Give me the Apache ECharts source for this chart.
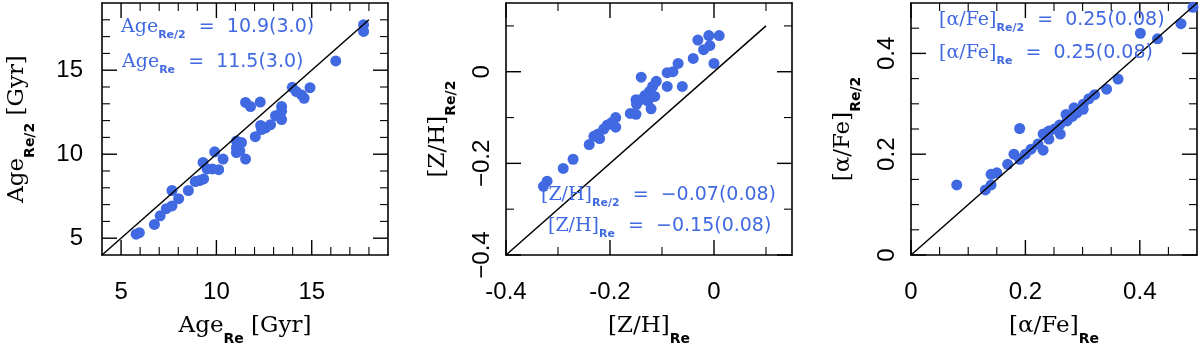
<!DOCTYPE html>
<html>
<head>
<meta charset="utf-8">
<script src="https://cdn.jsdelivr.net/npm/echarts@6/dist/echarts.min.js"></script>
<style>
html, body { margin: 0; padding: 0; background: #fff; }
#chart { width: 1200px; height: 351px; }
</style>
</head>
<body>
<div id="chart"></div>
<script>
// Age at Re (x) vs Age at Re/2 (y), Gyr
const ageRe = [17.72, 17.72, 16.26, 13.98, 14.19, 14.47, 14.6, 14.91, 11.53, 11.79, 12.3, 13.42, 13.42, 13.1, 13.42,
  12.32, 12.58, 12.84, 12.37, 12.04, 11.05, 11.32, 11.05, 11.05, 11.23, 11.53, 9.91, 10.35, 9.3, 9.51, 9.79, 10.12,
  8.89, 9.12, 9.33, 8.53, 7.67, 8.02, 7.67, 7.37, 7.05, 6.75, 5.79, 5.96]
const ageRe2 = [17.71, 17.31, 15.55, 13.98, 13.73, 13.53, 13.33, 13.96, 13.08, 12.84, 13.1, 12.84, 12.55, 12.29, 12.06,
  11.71, 11.57, 11.76, 11.47, 11.04, 10.78, 10.69, 10.39, 10.1, 10.2, 9.71, 10.14, 9.71, 9.51, 9.12, 9.12, 9.08,
  8.37, 8.43, 8.53, 7.84, 7.84, 7.35, 6.92, 6.76, 6.33, 5.82, 5.24, 5.33]

// [Z/H] at Re (x) vs at Re/2 (y)
const zhRe = [0.01, -0.01, -0.031, -0.008, -0.02, 0.0, -0.04, -0.069, -0.079, -0.09, -0.061, -0.09, -0.14, -0.111,
  -0.118, -0.124, -0.133, -0.141, -0.15, -0.149, -0.121, -0.161, -0.15, -0.114, -0.127, -0.189, -0.197, -0.205,
  -0.189, -0.212, -0.223, -0.231, -0.22, -0.24, -0.271, -0.29, -0.321, -0.328]
const zhRe2 = [0.079, 0.079, 0.069, 0.057, 0.048, 0.018, 0.029, 0.018, 0.0, -0.002, -0.032, -0.032, -0.012, -0.021,
  -0.032, -0.043, -0.052, -0.061, -0.061, -0.071, -0.081, -0.091, -0.093, -0.054, -0.064, -0.1, -0.111, -0.116,
  -0.121, -0.125, -0.136, -0.141, -0.146, -0.159, -0.191, -0.211, -0.239, -0.25]

// [alpha/Fe] at Re (x) vs at Re/2 (y)
const afeRe = [0.493, 0.472, 0.401, 0.431, 0.362, 0.342, 0.321, 0.311, 0.301, 0.301, 0.29, 0.282, 0.271, 0.273, 0.26,
  0.261, 0.251, 0.241, 0.238, 0.231, 0.241, 0.222, 0.21, 0.231, 0.2, 0.19, 0.18, 0.19, 0.169, 0.15, 0.14, 0.14,
  0.13, 0.08, 0.285]
const afeRe2 = [0.4915, 0.459, 0.44, 0.429, 0.349, 0.329, 0.318, 0.31, 0.299, 0.289, 0.282, 0.275, 0.279, 0.266,
  0.258, 0.24, 0.25, 0.246, 0.237, 0.24, 0.23, 0.22, 0.21, 0.208, 0.2, 0.251, 0.2, 0.19, 0.18, 0.163, 0.16, 0.139,
  0.129, 0.139, 0.292]

// one-to-one lines
const ageDiag = [4, 18]
const zhDiag = [-0.4, 0.1]
const afeDiag = [0, 0.5]

// major tick values (labelled)
const ageTicks = [5, 10, 15]
const zhTicks = [-0.4, -0.2, 0]
const afeTicks = [0, 0.2, 0.4]

const BLUE = '#4169e1'
const chart = echarts.init(document.getElementById('chart'))

const panels = [
  { left: 102, min: 4, max: 19, step: 1, ticks: ageTicks, xs: ageRe, ys: ageRe2, diag: ageDiag,
    rotY: 0, yMargin: 19, fmtY: null,
    nameX: '{m|Age}{s|Re}{m| [Gyr]}', nameY: '{m|Age}{s|Re/2}{m| [Gyr]}', gapY: 68 },
  { left: 506, min: -0.4, max: 0.15, step: 0.1, ticks: zhTicks, xs: zhRe, ys: zhRe2, diag: zhDiag,
    rotY: 90, yMargin: 12, fmtY: v => v === 0 ? '0' : v.toFixed(1).replace('-', '\u2212'),
    nameX: '{m|[Z/H]}{s|Re}', nameY: '{m|[Z/H]}{s|Re/2}', gapY: 51 },
  { left: 911, min: 0, max: 0.5, step: 0.05, ticks: afeTicks, xs: afeRe, ys: afeRe2, diag: afeDiag,
    rotY: 90, yMargin: 12, fmtY: null,
    nameX: '{m|[\u03b1/Fe]}{s|Re}', nameY: '{m|[\u03b1/Fe]}{s|Re/2}', gapY: 51 }
]

const nameRich = {
  m: { fontFamily: 'DejaVu Serif', fontSize: 23, color: '#000', lineHeight: 28, verticalAlign: 'top' },
  s: { fontFamily: 'DejaVu Sans', fontWeight: 'bold', fontSize: 14, color: '#000', lineHeight: 14,
       padding: [17, 0, 0, 0], verticalAlign: 'top' }
}

// bottom/left axes carry labels and titles, top/right only close the frame
function makeAxes(dim, gi, p) {
  const sides = dim === 'x' ? ['bottom', 'top'] : ['left', 'right']
  return sides.map((position, k) => {
    const main = k === 0
    const lab = { show: main, customValues: p.ticks, color: '#000', fontFamily: 'Liberation Sans', fontSize: 24 }
    if (dim === 'x') {
      lab.margin = 25
    } else {
      lab.margin = p.yMargin
      lab.rotate = p.rotY
      if (p.fmtY) lab.formatter = p.fmtY
    }
    const axis = {
      type: 'value', gridIndex: gi, position, min: p.min, max: p.max, interval: p.step,
      axisLine: { show: true, onZero: false, lineStyle: { color: '#000', width: 1.6 } },
      axisTick: { show: false },
      axisLabel: lab,
      splitLine: { show: false }
    }
    if (main) {
      axis.name = dim === 'x' ? p.nameX : p.nameY
      axis.nameLocation = 'middle'
      axis.nameGap = dim === 'x' ? 60 : p.gapY
      axis.nameTextStyle = { rich: nameRich }
    }
    return axis
  })
}

// inward tick marks on all four sides: [value, isMinor, side]
function tickItems(p) {
  const items = []
  const sides = [0, 1, 2, 3]
  for (let v = p.min + p.step; v < p.max - 1e-9; v += p.step) {
    const val = +v.toFixed(6)
    if (!p.ticks.some(t => Math.abs(t - val) < 1e-9)) sides.forEach(s => items.push([val, 1, s]))
  }
  p.ticks.forEach(t => sides.forEach(s => items.push([t, 0, s])))
  return items
}

const grid = []
const xAxis = []
const yAxis = []
const series = []
panels.forEach((p, i) => {
  const ai = xAxis.length
  grid.push({ left: p.left, top: 3, width: 286, height: 254 })
  xAxis.push(...makeAxes('x', i, p))
  yAxis.push(...makeAxes('y', i, p))

  series.push({
    type: 'custom', xAxisIndex: ai, yAxisIndex: ai, clip: false, silent: true, z: 1,
    data: tickItems(p),
    renderItem(params, api) {
      const v = api.value(0)
      const len = api.value(1) ? 8 : 15
      const side = api.value(2)
      let a, b
      if (side === 0) { a = api.coord([v, p.min]); b = [a[0], a[1] - len] }
      else if (side === 1) { a = api.coord([v, p.max]); b = [a[0], a[1] + len] }
      else if (side === 2) { a = api.coord([p.min, v]); b = [a[0] + len, a[1]] }
      else { a = api.coord([p.max, v]); b = [a[0] - len, a[1]] }
      return {
        type: 'line',
        shape: { x1: a[0], y1: a[1], x2: b[0], y2: b[1] },
        style: { stroke: '#000', lineWidth: len === 15 ? 1.4 : 1.1 }
      }
    }
  })
  series.push({
    type: 'line', xAxisIndex: ai, yAxisIndex: ai,
    data: [[p.diag[0], p.diag[0]], [p.diag[1], p.diag[1]]],
    symbol: 'none', lineStyle: { color: '#000', width: 1.5 }, silent: true
  })
  series.push({
    type: 'scatter', xAxisIndex: ai, yAxisIndex: ai,
    data: p.xs.map((x, j) => [x, p.ys[j]]),
    symbolSize: 11, itemStyle: { color: BLUE, opacity: 1 }
  })
})

// blue annotations (mean and scatter of each quantity)
const noteRich = {
  m: { fontFamily: 'DejaVu Serif', fontWeight: 'normal', fontSize: 19, color: BLUE, lineHeight: 22, verticalAlign: 'top' },
  n: { fontFamily: 'DejaVu Sans', fontWeight: 'normal', fontSize: 19, color: BLUE, lineHeight: 22, verticalAlign: 'top' },
  s: { fontFamily: 'DejaVu Sans', fontWeight: 'bold', fontSize: 11, color: BLUE, lineHeight: 12,
       padding: [12, 1, 0, 0], verticalAlign: 'top' }
}
const notes = [
  [121, 18, '{m|Age}{s|Re/2}{n|  =  10.9(3.0)}'],
  [122, 53, '{m|Age}{s|Re}{n|  =  11.5(3.0)}'],
  [541, 186, '{m|[Z/H]}{s|Re/2}{n|  =  \u22120.07(0.08)}'],
  [548, 217, '{m|[Z/H]}{s|Re}{n|  =  \u22120.15(0.08)}'],
  [939, 11, '{m|[\u03b1/Fe]}{s|Re/2}{n|  =  0.25(0.08)}'],
  [939, 44, '{m|[\u03b1/Fe]}{s|Re}{n|  =  0.25(0.08)}']
]

chart.setOption({
  animation: false,
  title: notes.map(([x, y, t]) => ({
    text: t, left: x, top: y, padding: 0,
    textStyle: { rich: noteRich, color: BLUE, fontWeight: 'normal' }
  })),
  grid, xAxis, yAxis, series
})
</script>
</body>
</html>
